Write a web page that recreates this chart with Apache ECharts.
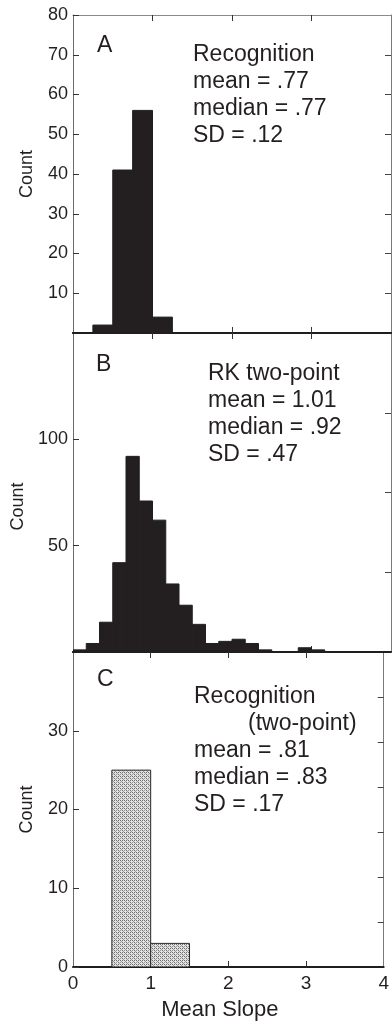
<!DOCTYPE html>
<html>
<head>
<meta charset="utf-8">
<title>Mean slope distributions</title>
<script src="https://cdn.jsdelivr.net/npm/echarts@6/dist/echarts.min.js"></script>
<style>
  html, body { margin: 0; padding: 0; background: #fff; }
  #chart { width: 392px; height: 1025px; }
</style>
</head>
<body>
<div id="chart"></div>
<script>
// Histogram bins: first bin start, bin width, counts per bin
const slopeRange = [0, 4];

const recogStart = 0.25;
const recogWidth = 0.25;
const recogCounts = [2, 41, 56, 4];

const rkStart = 0;
const rkWidth = 1 / 6;
const rkCounts = [1, 4, 14, 42, 92, 71, 62, 32, 22, 13, 4, 5, 6, 4, 1, 0, 0, 2, 1, 0, 0, 0, 0, 0];

const recog2Start = 0.5;
const recog2Width = 0.5;
const recog2Counts = [25, 3];

// Axis ranges and tick values
const countMaxA = 80, countMaxB = 150, countMaxC = 40;
const yTicksA = [10, 20, 30, 40, 50, 60, 70, 80];
const yTicksB = [50, 100];
const yTicksC = [0, 10, 20, 30];
const yRightTicksA = [10, 20, 30, 40, 50, 60, 70];
const yRightTicksB = [37.5, 75, 112.5];
const yRightTicksC = [40 / 7, 80 / 7, 120 / 7, 160 / 7, 200 / 7, 240 / 7];
const xTicks = [1, 2, 3];
const xLabels = [0, 1, 2, 3, 4];

// Panel annotations
const panelLetters = ['A', 'B', 'C'];
const statsA = ['Recognition', 'mean = .77', 'median = .77', 'SD = .12'];
const statsB = ['RK two-point', 'mean = 1.01', 'median = .92', 'SD = .47'];
const statsCTitle = ['Recognition', '(two-point)'];
const statsC = ['mean = .81', 'median = .83', 'SD = .17'];

function binsToRows(start, width, counts) {
  return counts.map((c, i) => [start + i * width, start + (i + 1) * width, c]);
}

// Stippled fill for the lower panel
function stipple() {
  const c = document.createElement('canvas');
  c.width = 4; c.height = 4;
  const g = c.getContext('2d');
  g.fillStyle = '#e2e2e2';
  g.fillRect(0, 0, 4, 4);
  g.fillStyle = '#6e6e6e';
  g.fillRect(0, 0, 1, 1);
  g.fillRect(2, 2, 1, 1);
  g.fillRect(2, 0, 1, 1);
  g.fillStyle = '#9a9a9a';
  g.fillRect(0, 2, 1, 1);
  g.fillRect(1, 1, 1, 1);
  g.fillRect(3, 3, 1, 1);
  return { image: c, repeat: 'repeat' };
}

const ink = '#231f20';
const FONT = '"Liberation Sans", Arial, Helvetica, sans-serif';

function histSeries(idx, rows, fill, stroke) {
  return {
    type: 'custom',
    xAxisIndex: idx * 2,
    yAxisIndex: idx * 2,
    data: rows,
    encode: { x: [0, 1], y: 2 },
    clip: true,
    renderItem: function (params, api) {
      if (api.value(2) <= 0) return null;
      const p0 = api.coord([api.value(0), api.value(2)]);
      const p1 = api.coord([api.value(1), 0]);
      return {
        type: 'rect',
        shape: { x: p0[0], y: p0[1], width: p1[0] - p0[0], height: p1[1] - p0[1] },
        style: { fill: fill, stroke: stroke, lineWidth: 1 }
      };
    }
  };
}

const grids = [
  { left: 73, width: 318, top: 15, height: 318 },
  { left: 73, width: 318, top: 333, height: 319 },
  { left: 73, width: 318, top: 652, height: 315 }
];

const xAxes = [];
grids.forEach((g, i) => {
  xAxes.push({
    type: 'value', gridIndex: i, position: 'bottom',
    min: slopeRange[0], max: slopeRange[1], interval: 1,
    axisLine: { show: true, onZero: false, lineStyle: { color: '#1e1e1e', width: 2 } },
    axisTick: { show: true, inside: true, length: 6, customValues: xTicks, lineStyle: { color: '#333', width: 1 } },
    axisLabel: { show: i === 2, customValues: xLabels, color: ink, fontFamily: FONT, fontSize: 19, margin: 7 },
    splitLine: { show: false },
    name: i === 2 ? 'Mean Slope' : '',
    nameLocation: 'middle', nameGap: 32,
    nameTextStyle: { color: ink, fontFamily: FONT, fontSize: 22, padding: [0, 17, 0, 0] }
  });
  xAxes.push({
    type: 'value', gridIndex: i, position: 'top',
    min: slopeRange[0], max: slopeRange[1], interval: 1,
    axisLine: { show: true, onZero: false, lineStyle: { color: i === 0 ? '#8a8a8a' : '#1e1e1e', width: i === 0 ? 1 : 2 } },
    axisTick: { show: true, inside: true, length: 6, customValues: xTicks, lineStyle: { color: '#333', width: 1 } },
    axisLabel: { show: false },
    splitLine: { show: false }
  });
});

const yLeft = [
  { max: countMaxA, ticks: yTicksA, right: yRightTicksA, gap: 37, pad: [0, 0, 0, 0] },
  { max: countMaxB, ticks: yTicksB, right: yRightTicksB, gap: 46, pad: [0, 28, 0, 0] },
  { max: countMaxC, ticks: yTicksC, right: yRightTicksC, gap: 37, pad: [0, 0, 0, 0] }
];

const yAxes = [];
yLeft.forEach((y, i) => {
  yAxes.push({
    type: 'value', gridIndex: i, position: 'left',
    min: 0, max: y.max,
    axisLine: { show: true, onZero: false, lineStyle: { color: '#6a6a6a', width: 1 } },
    axisTick: { show: true, inside: true, length: 6, customValues: y.ticks, lineStyle: { color: '#333', width: 1 } },
    axisLabel: { show: true, customValues: y.ticks, color: ink, fontFamily: FONT, fontSize: 18, margin: 5 },
    splitLine: { show: false },
    name: 'Count', nameLocation: 'middle', nameRotate: 90, nameGap: y.gap,
    nameTextStyle: { color: ink, fontFamily: FONT, fontSize: 18, padding: y.pad }
  });
  yAxes.push({
    type: 'value', gridIndex: i, position: 'right',
    min: 0, max: y.max,
    axisLine: { show: true, onZero: false, lineStyle: { color: '#7a7a7a', width: 1 } },
    axisTick: { show: true, inside: true, length: 6, customValues: y.right, lineStyle: { color: '#444', width: 1 } },
    axisLabel: { show: false },
    splitLine: { show: false }
  });
});

// Annotation text blocks
function textBlock(x, top, lines) {
  return lines.map((t, k) => ({
    type: 'text', left: x, top: top + k * 27, silent: true,
    style: { text: t, fill: ink, font: '23px ' + FONT }
  }));
}

const graphics = [].concat(
  textBlock(97, 34, [panelLetters[0]]),
  textBlock(193, 43, statsA),
  textBlock(96, 353, [panelLetters[1]]),
  textBlock(208, 362, statsB),
  textBlock(97, 668, [panelLetters[2]]),
  textBlock(194, 685, [statsCTitle[0]]),
  textBlock(248, 712, [statsCTitle[1]]),
  textBlock(194, 739, statsC)
);

const chart = echarts.init(document.getElementById('chart'), null, { renderer: 'canvas' });
chart.setOption({
  animation: false,
  backgroundColor: '#ffffff',
  grid: grids,
  xAxis: xAxes,
  yAxis: yAxes,
  series: [
    histSeries(0, binsToRows(recogStart, recogWidth, recogCounts), ink, ink),
    histSeries(1, binsToRows(rkStart, rkWidth, rkCounts), ink, ink),
    histSeries(2, binsToRows(recog2Start, recog2Width, recog2Counts), stipple(), '#2a2a2a')
  ],
  graphic: graphics
});
</script>
</body>
</html>
